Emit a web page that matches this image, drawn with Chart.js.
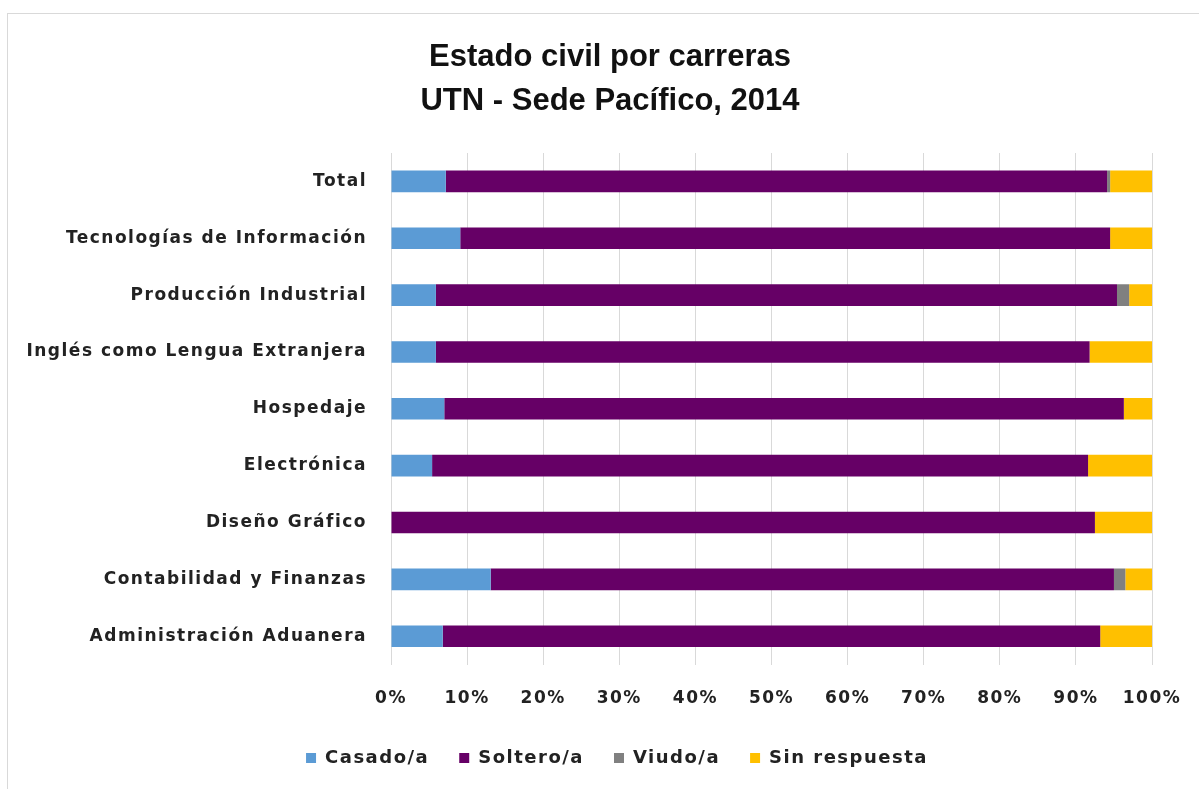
<!DOCTYPE html>
<html>
<head>
<meta charset="utf-8">
<script src="https://cdn.jsdelivr.net/npm/chart.js@4.4.1/dist/chart.umd.min.js"></script>
<style>
  html, body { margin: 0; padding: 0; background: #ffffff; }
  #wrap { position: relative; width: 1199px; height: 789px; overflow: hidden; }
  #frame { position: absolute; left: 7px; top: 13px; width: 1200px; height: 800px; border: 1px solid #d9d9d9; box-sizing: border-box; }
  canvas { position: absolute; left: 0; top: 0; }
</style>
</head>
<body>
<div id="wrap">
  <div id="frame"></div>
  <canvas id="c" width="1199" height="789"></canvas>
</div>
<script>
// Careers, listed top to bottom
const categories = [
  'Total',
  'Tecnologías de Información',
  'Producción Industrial',
  'Inglés como Lengua Extranjera',
  'Hospedaje',
  'Electrónica',
  'Diseño Gráfico',
  'Contabilidad y Finanzas',
  'Administración Aduanera'
];

// Share of students (%) per marital status
const casado       = [7.2, 9.1, 5.9, 5.9, 7.0, 5.4, 0.0, 13.1, 6.8];
const soltero      = [86.9, 85.4, 89.5, 85.9, 89.3, 86.2, 92.5, 81.9, 86.4];
const viudo        = [0.4, 0.0, 1.6, 0.0, 0.0, 0.0, 0.0, 1.5, 0.0];
const sinRespuesta = [5.5, 5.5, 3.0, 8.2, 3.7, 8.4, 7.5, 3.5, 6.8];

const xTicks = [0, 10, 20, 30, 40, 50, 60, 70, 80, 90, 100];

const titleLines = ['Estado civil por carreras', 'UTN - Sede Pacífico, 2014'];

const labelFont = { family: 'DejaVu Sans', weight: 'bold', size: 17 };

// Wider tracking for axis and legend text (set again after every resize/reset)
const tracking = {
  id: 'tracking',
  beforeLayout(chart) { chart.ctx.letterSpacing = '1.5px'; },
  beforeDraw(chart) { chart.ctx.letterSpacing = '1.5px'; }
};

// Centre the legend row under the whole block rather than the left part
const legendShift = {
  id: 'legendShift',
  afterLayout(chart) { if (chart.legend) chart.legend.left += 82; }
};

// Two-line heading, centred over the whole chart block
const heading = {
  id: 'heading',
  afterDraw(chart) {
    const ctx = chart.ctx;
    ctx.save();
    ctx.letterSpacing = '0px';
    ctx.fillStyle = '#111111';
    ctx.font = 'bold 31px "Liberation Sans"';
    ctx.textAlign = 'center';
    ctx.textBaseline = 'middle';
    titleLines.forEach((line, i) => ctx.fillText(line, 610, 57 + i * 44));
    ctx.restore();
  }
};

new Chart(document.getElementById('c'), {
  type: 'bar',
  data: {
    labels: categories,
    datasets: [
      { label: 'Casado/a', data: casado, backgroundColor: '#5b9bd5' },
      { label: 'Soltero/a', data: soltero, backgroundColor: '#660066' },
      { label: 'Viudo/a', data: viudo, backgroundColor: '#808080' },
      { label: 'Sin respuesta', data: sinRespuesta, backgroundColor: '#ffc000' }
    ]
  },
  plugins: [tracking, legendShift, heading],
  options: {
    indexAxis: 'y',
    responsive: false,
    animation: false,
    devicePixelRatio: 1,
    datasets: { bar: { categoryPercentage: 1.0, barPercentage: 0.38, borderWidth: 0 } },
    layout: { padding: { left: 0, right: 47, top: 153, bottom: 12 } },
    scales: {
      x: {
        stacked: true,
        min: 0,
        max: 100,
        afterBuildTicks: (s) => { s.ticks = xTicks.map(v => ({ value: v })); },
        afterFit: (s) => {
          s.height = s.height - 14;
          s.paddingLeft = 0;
          s.paddingRight = 0;
        },
        ticks: {
          callback: (v) => v + '%',
          color: '#222222',
          font: labelFont,
          padding: 24,
          maxRotation: 0
        },
        grid: { color: '#d9d9d9', lineWidth: 1, drawTicks: false },
        border: { display: false }
      },
      y: {
        stacked: true,
        afterFit: (s) => { s.width = 391; },
        ticks: { color: '#222222', font: labelFont, padding: 16, autoSkip: false },
        grid: { display: false },
        border: { display: true, color: '#d9d9d9' }
      }
    },
    plugins: {
      title: { display: false },
      legend: {
        position: 'bottom',
        labels: {
          color: '#222222',
          font: { family: 'DejaVu Sans', weight: 'bold', size: 18 },
          boxWidth: 10,
          boxHeight: 10,
          padding: 30
        }
      },
      tooltip: { enabled: false }
    }
  }
});
</script>
</body>
</html>
